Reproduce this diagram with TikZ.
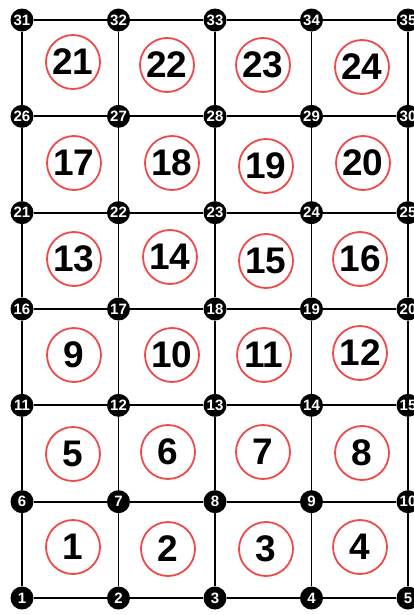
\documentclass[tikz,border=0pt]{standalone}
\usepackage{fontspec}
\setmainfont{Liberation Sans}
\definecolor{meshRed}{HTML}{EE4A4A}
\tikzset{
  mesh line/.style={draw=black, line width=1.8pt},
  mesh node/.style={circle, fill=black, minimum size=23pt, inner sep=0pt, text=white, font=\fontsize{15}{15}\selectfont\bfseries},
  mesh elem/.style={circle, draw=meshRed, fill=white, line width=1.8pt, minimum size=54pt, inner sep=0pt, font=\fontsize{37}{37}\selectfont\bfseries},
}

\begin{document}
\begin{tikzpicture}[x=1pt,y=-1pt]
  \useasboundingbox (0,0) rectangle (414,615);
  \clip (0,0) rectangle (414,615);

  % Nodes 1 to 35, left to right, bottom row first
  \foreach \n in {1,...,35} {
    \pgfmathtruncatemacro\c{mod(\n-1,5)}
    \pgfmathtruncatemacro\r{div(\n-1,5)}
    \node[mesh node] (n\n) at ({22+96.5*\c},{598-96.33*\r}) {\n};
  }

  % Horizontal edges
  \foreach \r in {0,...,6} {
    \foreach \c in {1,...,4} {
      \pgfmathtruncatemacro\a{5*\r+\c}
      \pgfmathtruncatemacro\b{\a+1}
      \draw[mesh line] (n\a) -- (n\b);
    }
  }
  % Vertical edges
  \foreach \a in {1,...,30} {
    \pgfmathtruncatemacro\b{\a+5}
    \draw[mesh line] (n\a) -- (n\b);
  }

  % Element numbers
  \foreach \e/\x/\y in {1/73/547, 2/168/549, 3/266/549, 4/360/547,
                        5/73/454, 6/168/452, 7/263/452, 8/362/453,
                        9/74/355, 10/172/355, 11/264/355, 12/360/353,
                        13/74/259, 14/170/257, 15/266/261, 16/360/259,
                        17/74/163, 18/172/163, 19/266/166, 20/363/163,
                        21/73/62, 22/167/65, 23/263/65, 24/362/67} {
    \node[mesh elem] (e\e) at (\x,\y) {\e};
  }
\end{tikzpicture}
\end{document}
